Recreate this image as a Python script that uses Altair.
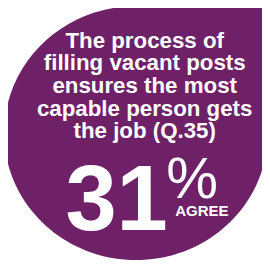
import altair as alt
import pandas as pd

# ---- content ----
question_lines = ["The process of", "filling vacant posts", "ensures the most",
                  "capable person gets", "the job (Q.35)"]
agree_pct = [31]
pct_sign = ["%"]
agree_label = ["AGREE"]

PURPLE = "#6e2167"
FONT = "Liberation Sans"

# teardrop-like badge: 3/4 ellipse with a square top-right corner (unit coords)
BADGE = ("M1,0 C1,0.532 0.552,0.963 0,0.963 C-0.552,0.963 -1,0.532 -1,0 "
         "C-1,-0.532 -0.552,-0.963 0,-0.963 L1,-0.963 Z")

base = alt.Chart(pd.DataFrame({"pct": agree_pct, "sign": pct_sign,
                               "label": agree_label}))

badge = base.mark_point(shape=BADGE, filled=True, opacity=1, strokeWidth=0,
                        color=PURPLE).encode(
    x=alt.value(132), y=alt.value(125), size=alt.value(73984))

question = base.mark_text(align="center", baseline="alphabetic", font=FONT,
                          fontWeight="bold", fontSize=23, lineHeight=23.3,
                          color="white").encode(
    x=alt.value(141), y=alt.value(37), text=alt.value(question_lines))

big = base.mark_text(align="center", baseline="alphabetic", font=FONT,
                     fontWeight="bold", fontSize=95, color="white").encode(
    x=alt.value(112), y=alt.value(225), text=alt.Text("pct:Q"))

sign = base.mark_text(align="center", baseline="alphabetic", font=FONT,
                      fontWeight="normal", fontSize=60, color="white").encode(
    x=alt.value(190), y=alt.value(192), text=alt.Text("sign:N"))

label = base.mark_text(align="center", baseline="alphabetic", font=FONT,
                       fontWeight="bold", fontSize=15.5, color="white").encode(
    x=alt.value(200), y=alt.value(210), text=alt.Text("label:N"))

chart = alt.layer(badge, question, big, sign, label).properties(
    width=262, height=257, padding=0, autosize=alt.AutoSizeParams(type="none"),
    background="white"
).configure_view(stroke=None)

chart.save("out.html", embed_options={"renderer": "svg", "actions": False})
